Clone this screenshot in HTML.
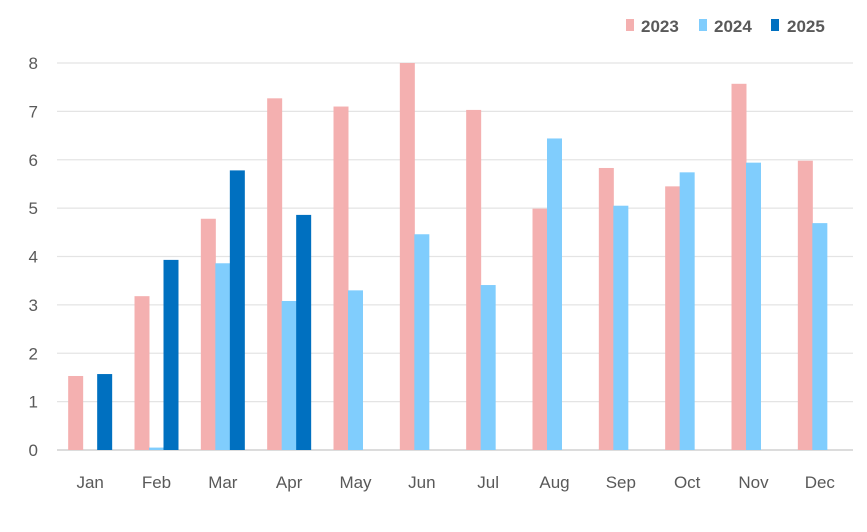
<!DOCTYPE html>
<html><head><meta charset="utf-8"><style>
body{margin:0;background:#fff;}
svg{display:block;font-family:"Liberation Sans",sans-serif;}
</style></head><body>
<svg id="chart" width="867" height="532" viewBox="0 0 867 532">
<g id="grid"></g><g id="bars"></g><g id="labels"></g>
<g font-size="17" font-weight="bold" fill="#595959">
<g><rect x="626" y="19" width="8" height="12" fill="#f4b0b0"/><text x="641" y="32">2023</text></g>
<g><rect x="699" y="19" width="8" height="12" fill="#80cdfd"/><text x="714" y="32">2024</text></g>
<g><rect x="771" y="19" width="8" height="12" fill="#0070c0"/><text x="787" y="32">2025</text></g>
</g>
</svg>
<script>
const categories=["Jan","Feb","Mar","Apr","May","Jun","Jul","Aug","Sep","Oct","Nov","Dec"];
const s2023=[1.53,3.18,4.78,7.27,7.1,8.0,7.03,4.99,5.83,5.45,7.57,5.98];
const s2024=[null,0.05,3.86,3.08,3.3,4.46,3.41,6.44,5.05,5.74,5.94,4.69];
const s2025=[1.57,3.93,5.78,4.86,null,null,null,null,null,null,null,null];
const yTicks=[0,1,2,3,4,5,6,7,8];
const NS="http://www.w3.org/2000/svg";
const y0=450,y8=63,x0=57,x1=853;
const y=v=>y0-(v/8)*(y0-y8);
const bandW=(x1-x0)/categories.length;
const xc=i=>x0+bandW*(i+0.5);
const grid=document.getElementById('grid'),bars=document.getElementById('bars'),labels=document.getElementById('labels');
function mk(tag,attrs,parent){const e=document.createElementNS(NS,tag);for(const k in attrs)e.setAttribute(k,attrs[k]);parent.appendChild(e);return e;}
yTicks.forEach(t=>{
 const l=mk('line',{x1:x0,x2:x1,y1:y(t),y2:y(t),stroke:t===0?'#d0d0d0':'#e4e4e4','stroke-width':t===0?1.5:1.2},grid);
 
 
 const tx=mk('text',{x:38,y:y(t)+6,'text-anchor':'end','font-size':17,fill:'#595959'},labels);
 tx.textContent=t;
 
 
});
const series=[[s2023,'#f4b0b0',-14.5,'2023'],[s2024,'#80cdfd',0,'2024'],[s2025,'#0070c0',14.5,'2025']];
categories.forEach((c,i)=>{
 series.forEach(([arr,col,off,name])=>{
  const v=arr[i]; if(v==null)return;
  const r=mk('rect',{x:xc(i)+off-7.5,y:y(v),width:15,height:y0-y(v),fill:col},bars);
  
  
 });
 const tx=mk('text',{x:xc(i),y:488,'text-anchor':'middle','font-size':17,fill:'#595959'},labels);
 tx.textContent=c;
 
 
});
</script>
</body></html>
